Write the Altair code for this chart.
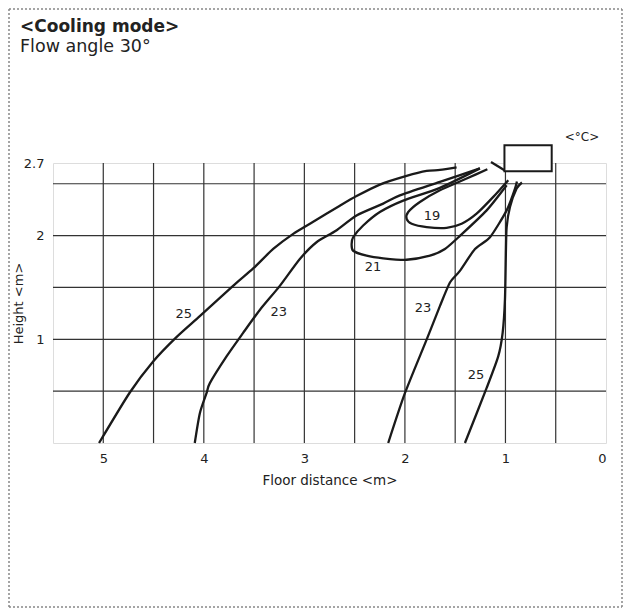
import altair as alt
import pandas as pd

# ---- data (metres) ----
c25u_x = [5.042, 4.736, 4.504, 4.272, 4.040, 3.709, 3.509, 3.310, 3.111, 2.912, 2.647, 2.481, 2.249, 1.983, 1.784, 1.652, 1.486]
c25u_y = [0.0, 0.487, 0.786, 1.021, 1.223, 1.515, 1.683, 1.871, 2.017, 2.133, 2.288, 2.381, 2.492, 2.575, 2.623, 2.633, 2.657]

c23u_x = [4.090, 4.040, 3.973, 3.940, 3.774, 3.609, 3.443, 3.244, 3.045, 2.879, 2.687, 2.481, 2.216, 2.050, 1.652, 1.254]
c23u_y = [0.0, 0.285, 0.480, 0.577, 0.835, 1.062, 1.283, 1.515, 1.774, 1.936, 2.046, 2.194, 2.308, 2.388, 2.518, 2.648]

c21_x = [1.254, 1.652, 2.017, 2.249, 2.415, 2.515, 2.530, 2.515, 2.381, 2.216, 1.983, 1.751, 1.602, 1.453, 1.187, 0.988]
c21_y = [2.648, 2.460, 2.337, 2.227, 2.097, 1.984, 1.919, 1.854, 1.806, 1.781, 1.767, 1.806, 1.871, 1.997, 2.243, 2.485]

c19_x = [1.180, 1.386, 1.652, 1.851, 1.967, 1.983, 1.933, 1.784, 1.585, 1.436, 1.287, 1.121, 0.972]
c19_y = [2.640, 2.550, 2.437, 2.324, 2.227, 2.162, 2.114, 2.082, 2.075, 2.114, 2.211, 2.373, 2.534]

c23l_x = [2.166, 2.000, 1.784, 1.652, 1.552, 1.453, 1.303, 1.154, 0.988, 0.905, 0.886]
c23l_y = [0.0, 0.480, 0.997, 1.320, 1.548, 1.660, 1.871, 1.984, 2.243, 2.453, 2.521]

c25l_x = [1.403, 1.187, 1.072, 1.028, 1.005, 0.995, 0.988, 0.955, 0.889, 0.836]
c25l_y = [0.0, 0.531, 0.835, 1.062, 1.385, 1.871, 2.082, 2.276, 2.453, 2.512]

label_text = ["19", "21", "23", "25", "23", "25"]
label_x = [1.731, 2.318, 3.254, 4.199, 1.821, 1.294]
label_y = [2.19, 1.696, 1.268, 1.240, 1.298, 0.657]

grid_x = [0.5, 1.0, 1.5, 2.0, 2.5, 3.0, 3.5, 4.0, 4.5, 5.0]
grid_y = [0.5, 1.0, 1.5, 2.0, 2.5]

x_ticks = [0, 1, 2, 3, 4, 5]
y_ticks = [1, 2, 2.7]

unit_x = [1.01, 0.54]
unit_y = [2.62, 2.87]
vane_x = [1.144, 1.01]
vane_y = [2.71, 2.63]

# ---- tables ----
rows = []
for name, xs_, ys_ in [("25u", c25u_x, c25u_y), ("23u", c23u_x, c23u_y), ("21", c21_x, c21_y),
                       ("19", c19_x, c19_y), ("23l", c23l_x, c23l_y), ("25l", c25l_x, c25l_y),
                       ("vane", vane_x, vane_y)]:
    for i, (a, b) in enumerate(zip(xs_, ys_)):
        rows.append({"curve": name, "i": i, "x": a, "y": b})
curves = pd.DataFrame(rows)
labels = pd.DataFrame({"x": label_x, "y": label_y, "t": label_text})
gx = pd.DataFrame({"x": grid_x})
gy = pd.DataFrame({"y": grid_y})
unit = pd.DataFrame({"x": [unit_x[0]], "x2": [unit_x[1]], "y": [unit_y[0]], "y2": [unit_y[1]]})
one = pd.DataFrame({"t": ["<Cooling mode>"]})

FONT = "DejaVu Sans"
INK = "#222"
xs = alt.Scale(domain=[0, 5.5], reverse=True, nice=False, zero=False)
ys = alt.Scale(domain=[0, 2.7], nice=False, zero=False)

xaxis = alt.Axis(values=x_ticks, format="d", ticks=False, domain=False, grid=False,
                 labelPadding=9, labelFontSize=13, labelFont=FONT, labelColor=INK,
                 title="Floor distance <m>", titleFont=FONT, titleFontSize=13.5,
                 titleFontWeight="normal", titleColor=INK, titlePadding=8)
yaxis = alt.Axis(values=y_ticks, labelExpr="'' + datum.value", ticks=False, domain=False, grid=False,
                 labelPadding=9, labelFontSize=13, labelFont=FONT, labelColor=INK,
                 title="Height <m>", titleFont=FONT, titleFontSize=13,
                 titleFontWeight="normal", titleColor=INK, titleX=-28, titleBaseline="bottom")

vgrid = alt.Chart(gx).mark_rule(color="#333", strokeWidth=1.2).encode(
    x=alt.X("x:Q", scale=xs, axis=xaxis))
hgrid = alt.Chart(gy).mark_rule(color="#333", strokeWidth=1.2).encode(
    y=alt.Y("y:Q", scale=ys, axis=yaxis))

lines = alt.Chart(curves).mark_line(color="#1a1a1a", strokeWidth=2.3, interpolate="cardinal", tension=0.3).encode(
    x=alt.X("x:Q", scale=xs),
    y=alt.Y("y:Q", scale=ys),
    detail="curve:N",
    order="i:Q",
)

unitbox = alt.Chart(unit).mark_rect(fill="white", stroke="#1a1a1a", strokeWidth=2).encode(
    x=alt.X("x:Q", scale=xs), x2="x2:Q", y=alt.Y("y:Q", scale=ys), y2="y2:Q")

ltext = alt.Chart(labels).mark_text(font=FONT, fontSize=13, color=INK).encode(
    x=alt.X("x:Q", scale=xs), y=alt.Y("y:Q", scale=ys), text="t:N")

title1 = alt.Chart(one).mark_text(font=FONT, fontSize=17, fontWeight="bold", align="left",
                                  baseline="alphabetic", color=INK, text="<Cooling mode>").encode(
    x=alt.value(-33), y=alt.value(-131))
title2 = alt.Chart(one).mark_text(font=FONT, fontSize=17.5, align="left",
                                  baseline="alphabetic", color=INK, text="Flow angle 30°").encode(
    x=alt.value(-33), y=alt.value(-111))
unitlbl = alt.Chart(one).mark_text(font=FONT, fontSize=12, align="center",
                                   baseline="middle", color=INK, text="<°C>").encode(
    x=alt.value(529), y=alt.value(-26))

dash = dict(color="#888", strokeWidth=1.5, strokeDash=[2, 2])
L, R, T, B = -44, 569, -154, 444
b_top = alt.Chart(one).mark_rule(**dash).encode(x=alt.value(L), x2=alt.value(R), y=alt.value(T))
b_bot = alt.Chart(one).mark_rule(**dash).encode(x=alt.value(L), x2=alt.value(R), y=alt.value(B))
b_left = alt.Chart(one).mark_rule(**dash).encode(x=alt.value(L), y=alt.value(T), y2=alt.value(B))
b_right = alt.Chart(one).mark_rule(**dash).encode(x=alt.value(R), y=alt.value(T), y2=alt.value(B))

chart = alt.layer(vgrid, hgrid, lines, unitbox, ltext, title1, title2, unitlbl,
                  b_top, b_bot, b_left, b_right).properties(
    width=553, height=280,
    autosize=alt.AutoSizeParams(type="none"),
    padding={"left": 45, "top": 155, "right": 17, "bottom": 165},
).configure_view(stroke="#1a1a1a", strokeWidth=2.6).configure(background="white")

chart.save("out.html", embed_options={"renderer": "svg", "actions": False})
